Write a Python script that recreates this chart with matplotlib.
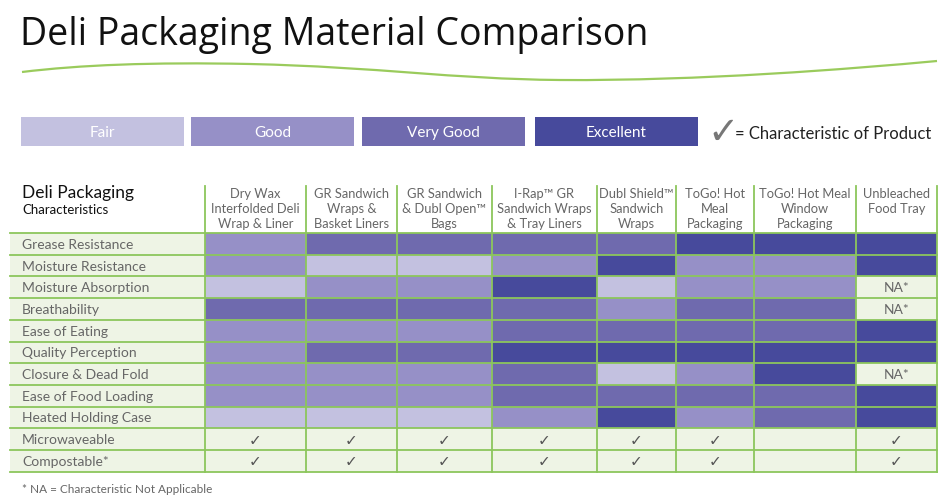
import matplotlib.pyplot as plt
import matplotlib.patches as mpatches
from matplotlib.path import Path

plt.rcParams['font.family'] = ['Lato', 'DejaVu Sans']

# rating scale, 0 = not applicable
levels = ['Fair', 'Good', 'Very Good', 'Excellent']
level_colors = ['#c3c1e0', '#9690c7', '#6f6aae', '#474a9c']

products = ['Dry Wax\nInterfolded Deli\nWrap & Liner',
            'GR Sandwich\nWraps &\nBasket Liners',
            'GR Sandwich\n& Dubl Open\u2122\nBags',
            'I-Rap\u2122 GR\nSandwich Wraps\n& Tray Liners',
            'Dubl Shield\u2122\nSandwich\nWraps',
            'ToGo! Hot\nMeal\nPackaging',
            'ToGo! Hot Meal\nWindow\nPackaging',
            'Unbleached\nFood Tray']

characteristics = ['Grease Resistance', 'Moisture Resistance', 'Moisture Absorption',
                   'Breathability', 'Ease of Eating', 'Quality Perception',
                   'Closure & Dead Fold', 'Ease of Food Loading', 'Heated Holding Case']

ratings = [
    [2, 3, 3, 3, 3, 4, 4, 4],
    [2, 1, 1, 2, 4, 2, 2, 4],
    [1, 2, 2, 4, 1, 2, 2, 0],
    [3, 3, 3, 3, 2, 3, 3, 0],
    [2, 2, 2, 3, 3, 3, 3, 4],
    [2, 3, 3, 4, 4, 4, 4, 4],
    [2, 2, 2, 3, 1, 2, 4, 0],
    [2, 2, 2, 3, 3, 3, 3, 4],
    [1, 1, 1, 2, 4, 2, 3, 4],
]

check_rows = ['Microwaveable', 'Compostable*']
microwaveable = [1, 1, 1, 1, 1, 1, 0, 1]
compostable = [1, 1, 1, 1, 1, 1, 0, 1]

# layout (pixel coordinates)
col_edges = [205, 306, 397, 492, 597, 676, 754, 856, 937]
table_left = 10
header_top = 187
body_top = 234
row_h = 21.7
green = '#8cc65c'
pale = '#eef4e5'
grey_txt = '#666666'

fig = plt.figure(figsize=(9.47, 5.02), dpi=100)
ax = fig.add_axes([0, 0, 1, 1])
ax.set_xlim(0, 947)
ax.set_ylim(502, 0)
ax.axis('off')

# title and swoosh
ax.text(20, 45, 'Deli Packaging Material Comparison', fontsize=27, va='baseline',
        color='#111111', family=['Open Sans', 'DejaVu Sans'])
verts = [(22, 73), (80, 66), (150, 63), (250, 65),
         (380, 68), (450, 80), (560, 81),
         (700, 82), (850, 70), (937, 62)]
codes = [Path.MOVETO] + [Path.CURVE4] * 9
ax.add_patch(mpatches.PathPatch(Path(verts, codes), fill=False, edgecolor='#9acb5c', lw=1.6))

# legend
leg_x = [21, 191, 362, 535]
for i, (lab, c) in enumerate(zip(levels, level_colors)):
    ax.add_patch(mpatches.Rectangle((leg_x[i], 118), 163, 29, color=c, lw=0))
    ax.text(leg_x[i] + 81.5, 133, lab, ha='center', va='center', fontsize=11, color='white')
ax.text(707, 134, '\u2713', fontsize=27, ha='left', va='center', color='#777777',
        family='DejaVu Sans')
ax.text(735, 134, '= Characteristic of Product', fontsize=12, ha='left', va='center',
        color='#222222')

# header
ax.text(22, 193, 'Deli Packaging', fontsize=12.5, va='center', color='#111111')
ax.text(22, 210, 'Characteristics', fontsize=9.5, va='center', color='#111111')
for j, p in enumerate(products):
    cx = (col_edges[j] + col_edges[j + 1]) / 2
    for k, line in enumerate(p.split('\n')):
        ax.text(cx, 194 + k * 15, line, ha='center', va='center', fontsize=9.3, color=grey_txt)

# body
all_rows = characteristics + check_rows
n_rows = len(all_rows)
for i, name in enumerate(all_rows):
    y0 = body_top + i * row_h
    ax.add_patch(mpatches.Rectangle((table_left, y0), col_edges[0] - table_left, row_h,
                                    color=pale, lw=0))
    ax.text(22, y0 + row_h / 2, name, va='center', fontsize=10, color=grey_txt)
    for j in range(len(products)):
        x0 = col_edges[j]
        w = col_edges[j + 1] - x0
        cx = x0 + w / 2
        if i < len(characteristics):
            r = ratings[i][j]
            if r == 0:
                ax.add_patch(mpatches.Rectangle((x0, y0), w, row_h, color=pale, lw=0))
                ax.text(cx, y0 + row_h / 2, 'NA*', ha='center', va='center',
                        fontsize=10, color=grey_txt)
            else:
                ax.add_patch(mpatches.Rectangle((x0, y0), w, row_h,
                                                color=level_colors[r - 1], lw=0))
        else:
            ax.add_patch(mpatches.Rectangle((x0, y0), w, row_h, color=pale, lw=0))
            flags = microwaveable if name == 'Microwaveable' else compostable
            if flags[j]:
                ax.text(cx, y0 + row_h / 2, '\u2713', ha='center', va='center',
                        fontsize=11, color='#555555', family='DejaVu Sans')

# grid lines
body_bottom = body_top + n_rows * row_h
for i in range(n_rows + 1):
    ax.plot([table_left, col_edges[-1]], [body_top + i * row_h] * 2, color=green, lw=1.3)
for x in col_edges:
    ax.plot([x, x], [header_top, body_bottom], color=green, lw=1.3)

ax.text(22, 490, '* NA = Characteristic Not Applicable', fontsize=8.5, va='center',
        color=grey_txt)

fig.savefig('out.png', dpi=100)
